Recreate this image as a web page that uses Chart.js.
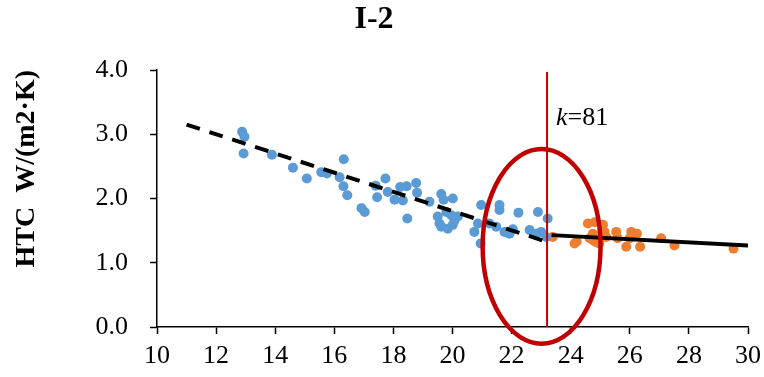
<!DOCTYPE html>
<html>
<head>
<meta charset="utf-8">
<title>I-2</title>
<script src="https://cdn.jsdelivr.net/npm/chart.js@4.4.0/dist/chart.umd.min.js"></script>
<style>
  html, body { margin: 0; padding: 0; background: #fff; }
  #wrap { width: 764px; height: 377px; }
</style>
</head>
<body>
<div id="wrap"><canvas id="chart"></canvas></div>
<script>
// below the break point
const blueX = [12.88, 12.96, 12.93, 13.89, 14.60, 15.07, 15.56, 15.75, 16.32, 16.18,
               16.31, 16.44, 16.92, 17.03, 17.40, 17.45, 17.73, 17.81, 18.04, 18.23,
               18.32, 18.45, 18.47, 18.77, 18.80, 19.22, 19.62, 19.70, 20.01, 19.50,
               19.56, 19.62, 19.79, 19.96, 20.07, 20.01, 19.84, 20.18, 20.86, 20.74,
               20.95, 20.97, 21.59, 21.59, 21.25, 21.48, 21.76, 21.93, 22.04, 22.23,
               22.61, 22.83, 22.89, 23.00, 23.22, 23.17];
const blueY = [3.04, 2.96, 2.70, 2.68, 2.48, 2.31, 2.41, 2.39, 2.61, 2.33,
               2.19, 2.05, 1.85, 1.79, 2.20, 2.02, 2.31, 2.10, 1.98, 2.18,
               1.97, 2.19, 1.69, 2.24, 2.09, 1.95, 2.07, 1.98, 2.00, 1.72,
               1.61, 1.56, 1.79, 1.74, 1.66, 1.59, 1.53, 1.72, 1.61, 1.48,
               1.30, 1.90, 1.90, 1.82, 1.61, 1.56, 1.48, 1.45, 1.52, 1.78,
               1.51, 1.45, 1.79, 1.48, 1.69, 1.40];

// above the break point
const orangeX = [23.39, 24.58, 24.81, 25.09, 25.14, 24.75, 24.75, 24.97, 24.13, 24.20,
                 25.20, 25.54, 25.59, 25.88, 26.05, 26.24, 25.99, 26.35, 27.06, 27.51,
                 29.51, 24.64, 24.86];
const orangeY = [1.40, 1.61, 1.63, 1.59, 1.48, 1.45, 1.35, 1.30, 1.30, 1.33,
                 1.40, 1.48, 1.38, 1.25, 1.48, 1.45, 1.38, 1.25, 1.38, 1.27,
                 1.22, 1.38, 1.32];

// fitted lines either side of k
const fitLowX = [11.0, 23.3];
const fitLowY = [3.15, 1.31];
const fitHighX = [23.35, 30.0];
const fitHighY = [1.43, 1.27];

const kX = [23.2, 23.2];
const kY = [0, 3.97];
const kText = ['k', '=81'];
const kTextAt = [23.5, 3.15];

// ring around the transition zone: [left, right], [bottom, top]
const ringX = [21.02, 25.01];
const ringY = [-0.26, 2.77];

const SERIF = "'Times New Roman', 'Liberation Serif', serif";

const pts = (xs, ys) => xs.map((x, i) => ({ x, y: ys[i] }));

const overlay = {
  id: 'overlay',
  afterDatasetsDraw(chart) {
    const { ctx, scales: { x, y } } = chart;
    const l = x.getPixelForValue(ringX[0]), r = x.getPixelForValue(ringX[1]);
    const b = y.getPixelForValue(ringY[0]), t = y.getPixelForValue(ringY[1]);
    ctx.save();
    ctx.strokeStyle = '#C00000';
    ctx.lineWidth = 4.5;
    ctx.beginPath();
    ctx.ellipse((l + r) / 2, (t + b) / 2, (r - l) / 2, (b - t) / 2, 0, 0, Math.PI * 2);
    ctx.stroke();

    const lx = x.getPixelForValue(kTextAt[0]);
    const ly = y.getPixelForValue(kTextAt[1]);
    ctx.fillStyle = '#000';
    ctx.textBaseline = 'alphabetic';
    ctx.textAlign = 'left';
    ctx.font = 'italic 26px ' + SERIF;
    ctx.fillText(kText[0], lx, ly);
    const w = ctx.measureText(kText[0]).width;
    ctx.font = '26px ' + SERIF;
    ctx.fillText(kText[1], lx + w, ly);
    ctx.restore();
  }
};

const axisCommon = {
  border: { display: true, color: '#000', width: 1.5 },
  grid: { drawOnChartArea: false, drawTicks: true, tickLength: 7, tickColor: '#000', tickWidth: 1.5 },
};

new Chart(document.getElementById('chart'), {
  type: 'scatter',
  data: {
    datasets: [
      { data: pts(fitLowX, fitLowY), showLine: true, borderColor: '#000', borderWidth: 4,
        borderDash: [14, 10], pointRadius: 0, order: 1 },
      { data: pts(fitHighX, fitHighY), showLine: true, borderColor: '#000', borderWidth: 4,
        pointRadius: 0, order: 1 },
      { data: pts(kX, kY), showLine: true, borderColor: '#C00000', borderWidth: 2,
        pointRadius: 0, order: 0 },
      { data: pts(blueX, blueY), backgroundColor: '#5B9BD5', borderWidth: 0,
        pointRadius: 5, order: 3 },
      { data: pts(orangeX, orangeY), backgroundColor: '#ED7D31', borderWidth: 0,
        pointRadius: 5, order: 3 }
    ]
  },
  options: {
    responsive: true,
    maintainAspectRatio: false,
    animation: false,
    layout: { padding: { left: 0, right: 16, top: 1, bottom: 0 } },
    plugins: {
      legend: { display: false },
      tooltip: { enabled: false },
      title: {
        display: true, text: 'I-2', color: '#000',
        font: { family: SERIF, size: 32, weight: 'bold' },
        padding: { top: 0, bottom: 30.6 }
      }
    },
    scales: {
      x: {
        ...axisCommon,
        type: 'linear', min: 10, max: 30,
        ticks: { stepSize: 2, color: '#000', padding: 7, font: { family: SERIF, size: 26 } },
        afterFit(s) { s.height = 50; s.paddingLeft = 0; s.paddingRight = 0; }
      },
      y: {
        ...axisCommon,
        min: 0, max: 4,
        ticks: { stepSize: 1, color: '#000', padding: 22, font: { family: SERIF, size: 26 },
                 callback: v => v.toFixed(1) },
        title: {
          display: true, text: 'HTC  W/(m2·K)', align: 'end', color: '#000',
          font: { family: SERIF, size: 28, weight: 'bold' },
          padding: { top: 10, bottom: 0 }
        },
        afterFit(s) { s.width = 157; }
      }
    }
  },
  plugins: [overlay]
});
</script>
</body>
</html>
